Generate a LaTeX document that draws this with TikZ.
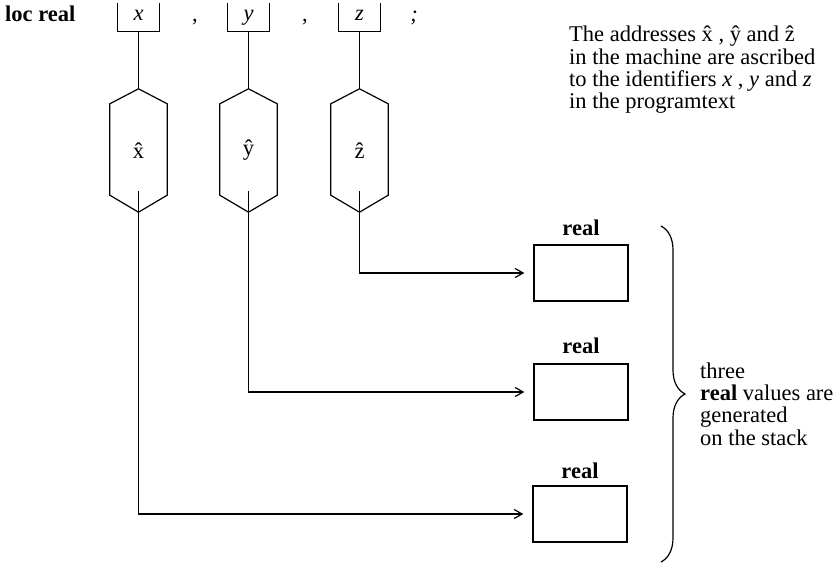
\documentclass[tikz,border=0pt]{standalone}
\usepackage{fontspec}
\setmainfont{Liberation Serif}
\usetikzlibrary{arrows.meta,decorations.pathreplacing,calc}
\begin{document}
\begin{tikzpicture}[x=1pt,y=-1pt,
  every node/.style={font=\fontsize{22.5}{22.3}\selectfont, inner sep=0pt},
  idbox/.style={minimum width=41pt,minimum height=28pt},
  hexnode/.style={minimum width=57pt,minimum height=123pt},
  valbox/.style={draw,line width=1.3pt,minimum width=94pt,minimum height=56pt},
  conn/.style={line width=1.2pt},
  arr/.style={conn,-{Straight Barb[length=8pt,width=9pt,line width=1.2pt]},shorten >=9pt}]
\useasboundingbox (0,0) rectangle (839,564);

% program text
\node[anchor=base west] (loc) at (5,22) {\bfseries loc real};
\node[idbox] (bx) at (138.5,17) {};
\node[idbox] (by) at (248.5,17) {};
\node[idbox] (bz) at (359.5,17) {};
\node[anchor=base] (tx) at (138.5,21) {\itshape x};
\node[anchor=base] (ty) at (248.5,21) {\itshape y};
\node[anchor=base] (tz) at (359.5,21) {\itshape z};
\node[anchor=base] (c1) at (195,22) {,};
\node[anchor=base] (c2) at (305,22) {,};
\node[anchor=base] (sc) at (414,22) {\itshape ;};
\foreach \b in {bx,by,bz}
  \draw[conn] (\b.north west) -- (\b.south west) -- (\b.south east) -- (\b.north east);

% addresses
\node[hexnode] (hx) at (138.5,150.5) {\^x};
\node[hexnode] (hy) at (248.5,150.5) {\^y};
\node[hexnode] (hz) at (359.5,150.5) {\^z};
\foreach \n in {hx,hy,hz}
  \draw[conn,line join=miter] (\n.north) -- ($(\n.north east)+(0,15)$) -- ($(\n.south east)+(0,-17)$)
    -- (\n.south) -- ($(\n.south west)+(0,-17)$) -- ($(\n.north west)+(0,15)$) -- cycle;

\draw[conn] (bx.south) -- (hx.north);
\draw[conn] (by.south) -- (hy.north);
\draw[conn] (bz.south) -- (hz.north);

% values on the stack
\node[valbox] (vz) at (581,273) {};
\node[valbox] (vy) at (581,392) {};
\node[valbox] (vx) at (580,514) {};
\node[anchor=base] (lz) at (581,236) {\bfseries real};
\node[anchor=base] (ly) at (581,354) {\bfseries real};
\node[anchor=base] (lx) at (580,478) {\bfseries real};

\draw[arr] ([yshift=21pt]hz.south) |- (vz.west);
\draw[arr] ([yshift=21pt]hy.south) |- (vy.west);
\draw[arr] ([yshift=21pt]hx.south) |- (vx.west);

% brace and comments
\coordinate (bt) at (661,226);
\coordinate (bb) at (661,562);
\draw[conn,decorate,decoration={brace,amplitude=24pt}] (bt) -- (bb);
\node[anchor=west,align=left] (gen) at (700,404)
  {three\\\textbf{real} values are\\generated\\on the stack};
\node[anchor=north west,align=left] (note) at (569,26)
  {The addresses \^x , \^y and \^z\\in the machine are ascribed\\to the identifiers \textit{x} , \textit{y} and \textit{z}\\in the programtext};
\end{tikzpicture}
\end{document}
